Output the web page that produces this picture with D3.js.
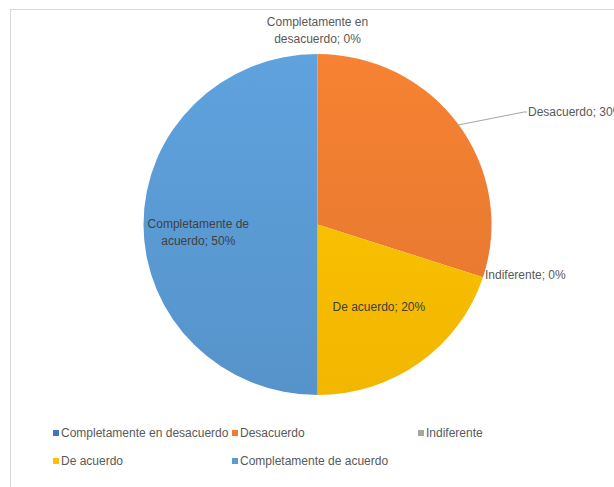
<!DOCTYPE html>
<html>
<head>
<meta charset="utf-8">
<script src="https://cdn.jsdelivr.net/npm/d3@7/dist/d3.min.js"></script>
<style>
  html, body { margin: 0; padding: 0; background: #ffffff; }
  svg { display: block; font-family: "Liberation Sans", Arial, sans-serif; }
</style>
</head>
<body>
<svg id="chart" width="614" height="487"></svg>
<script>
// Survey answers, share of respondents (%)
const categories = [
  "Completamente en desacuerdo",
  "Desacuerdo",
  "Indiferente",
  "De acuerdo",
  "Completamente de acuerdo"
];
const values = [0, 30, 0, 20, 50];
const colors = ["#4472C4", "#ED7D31", "#A5A5A5", "#FFC000", "#5B9BD5"];

const data = categories.map((c, i) => ({ name: c, value: values[i], color: colors[i] }));

const svg = d3.select("#chart");

// chart frame (extends past the right/bottom of the view)
svg.append("rect")
  .attr("x", 10.5).attr("y", 9.5)
  .attr("width", 800).attr("height", 700)
  .attr("fill", "#ffffff")
  .attr("stroke", "#d9d9d9").attr("stroke-width", 1);

const cx = 317.5, cy = 224.5, R = 172;
const sx = 174 / R, sy = 170.5 / R;

// soft vertical shading for each slice colour
const defs = svg.append("defs");
data.forEach((d, i) => {
  const g = defs.append("linearGradient")
    .attr("id", "grad" + i)
    .attr("gradientUnits", "userSpaceOnUse")
    .attr("x1", 0).attr("y1", -R).attr("x2", 0).attr("y2", R);
  const c = d3.color(d.color);
  g.append("stop").attr("offset", "0%").attr("stop-color", c.brighter(0.12).formatHex());
  g.append("stop").attr("offset", "100%").attr("stop-color", c.darker(0.15).formatHex());
});

const pie = d3.pie().value(d => d.value).sort(null).startAngle(0).endAngle(2 * Math.PI);
const arcs = pie(data);
const arc = d3.arc().innerRadius(0).outerRadius(R);

const pieG = svg.append("g")
  .attr("transform", `translate(${cx},${cy}) scale(${sx},${sy})`);

pieG.selectAll("path.slice")
  .data(arcs.filter(a => a.value > 0))
  .join("path")
  .attr("class", "slice")
  .attr("d", arc)
  .attr("fill", d => "url(#grad" + data.indexOf(d.data) + ")");

// helper: point on the (slightly elliptical) rim at a given pie angle
function rim(angle, k) {
  return [cx + Math.sin(angle) * R * sx * k, cy - Math.cos(angle) * R * sy * k];
}
const midA = a => (a.startAngle + a.endAngle) / 2;

const labels = svg.append("g").attr("font-size", 12);

function pct(d) { return d.data.value + "%"; }

// Completamente en desacuerdo (0%) – above the top of the pie
{
  const a = arcs[0];
  const [x] = rim(midA(a), 1);
  const t = labels.append("text").attr("text-anchor", "middle").attr("fill", "#595959");
  t.append("tspan").attr("x", x).attr("y", 26).text("Completamente en");
  t.append("tspan").attr("x", x).attr("y", 43).text("desacuerdo; " + pct(a));
}

// Desacuerdo (30%) – outside with a leader line
{
  const a = arcs[1];
  const [x0, y0] = rim(midA(a), 0.99);
  const x1 = 524, y1 = 112;
  svg.append("path")
    .attr("d", `M${x0},${y0}L${x1},${y1}L${x1 + 3},${y1}`)
    .attr("fill", "none").attr("stroke", "#a6a6a6").attr("stroke-width", 1);
  labels.append("text").attr("x", x1 + 4).attr("y", y1 + 4)
    .attr("fill", "#595959").text(a.data.name + "; " + pct(a));
}

// Indiferente (0%) – just outside the rim
{
  const a = arcs[2];
  const [x, y] = rim(a.startAngle, 1);
  labels.append("text").attr("x", x + 2).attr("y", y + 2)
    .attr("fill", "#595959").text(a.data.name + "; " + pct(a));
}

// De acuerdo (20%) – inside the slice
{
  const a = arcs[3];
  const [x, y] = rim(midA(a), 0.6);
  labels.append("text").attr("x", x).attr("y", y + 4).attr("text-anchor", "middle")
    .attr("fill", "#404040").text(a.data.name + "; " + pct(a));
}

// Completamente de acuerdo (50%) – inside the slice
{
  const a = arcs[4];
  const [x] = rim(midA(a), 0.685);
  const t = labels.append("text").attr("text-anchor", "middle").attr("fill", "#404040");
  t.append("tspan").attr("x", x).attr("y", 228).text("Completamente de");
  t.append("tspan").attr("x", x).attr("y", 245).text("acuerdo; " + pct(a));
}

// legend
const legendPos = [[53, 437], [232, 437], [418, 437], [53, 465], [232, 465]];
const legend = svg.append("g").attr("font-size", 12).attr("fill", "#595959");
data.forEach((d, i) => {
  const [lx, ly] = legendPos[i];
  legend.append("rect").attr("x", lx).attr("y", ly - 7).attr("width", 6).attr("height", 6)
    .attr("fill", d.color);
  legend.append("text").attr("x", lx + 8).attr("y", ly).text(d.name);
});
</script>
</body>
</html>
